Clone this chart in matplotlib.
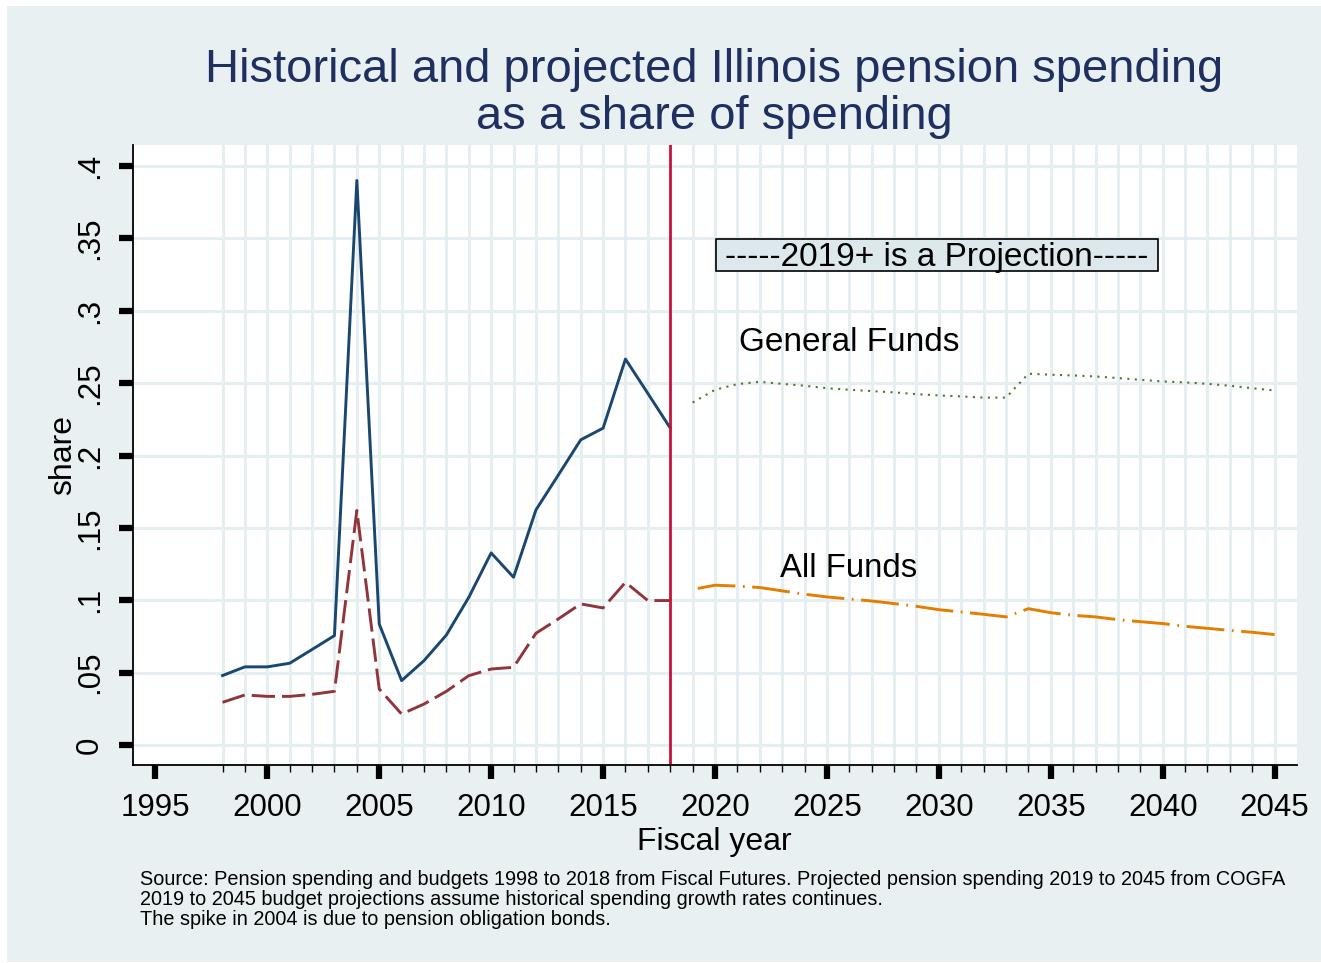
import matplotlib.pyplot as plt
from matplotlib.patches import Rectangle

# historical values (Fiscal Futures), 1998-2018
anos_hist = list(range(1998, 2019))
general_hist = [0.048, 0.054, 0.054, 0.0565, 0.066, 0.0756, 0.390, 0.0836, 0.0445, 0.0583,
                0.076, 0.102, 0.1327, 0.1159, 0.1624, 0.1865, 0.2108, 0.2189, 0.2666, 0.2429, 0.219]
tots_hist = [0.0295, 0.0346, 0.0336, 0.0336, 0.035, 0.0371, 0.162, 0.0387, 0.0214, 0.0283,
             0.0371, 0.0479, 0.0525, 0.0537, 0.0772, 0.0871, 0.0975, 0.0947, 0.1124, 0.0998, 0.0998]

# projections (COGFA), 2019-2045
anos_proj = list(range(2019, 2046))
general_proj = [0.2366, 0.2454, 0.2493, 0.2509, 0.2495, 0.2482, 0.2465, 0.2454, 0.2445, 0.2436,
                0.2424, 0.2415, 0.2408, 0.2400, 0.2400, 0.2565, 0.2558, 0.2553, 0.2546, 0.2535,
                0.2523, 0.2512, 0.2505, 0.2495, 0.2482, 0.2465, 0.2449]
tots_proj = [0.1075, 0.1104, 0.1098, 0.1088, 0.1065, 0.1042, 0.1023, 0.1009, 0.0995, 0.0977,
             0.0958, 0.0935, 0.0919, 0.0903, 0.0885, 0.0942, 0.0914, 0.0896, 0.0885, 0.0866,
             0.0852, 0.0839, 0.0820, 0.0806, 0.0792, 0.0779, 0.0763]

yticks = [0, 0.05, 0.1, 0.15, 0.2, 0.25, 0.3, 0.35, 0.4]
ytick_labels = ["0", ".05", ".1", ".15", ".2", ".25", ".3", ".35", ".4"]
xticks = list(range(1995, 2050, 5))

fons = "#E8F0F2"
plt.rcParams['font.family'] = ['Liberation Sans', 'DejaVu Sans']

W, H = 1321, 963
fig = plt.figure(figsize=(W / 100, H / 100), dpi=100)
fig.patch.set_facecolor("white")
fig.patches.append(Rectangle((7 / W, 1 / H), 1 - 7 / W, 1 - 7 / H, transform=fig.transFigure,
                             facecolor=fons, edgecolor="none", zorder=-10))

ax = fig.add_axes([133 / W, 1 - 765 / H, (1297 - 133) / W, (765 - 145) / H])
ax.set_facecolor("white")
ax.set_xlim(1994.0, 2046.0)
ax.set_ylim(-0.0138, 0.4145)

# grid: horizontal at y ticks, vertical at every data year
for y in yticks:
    ax.axhline(y, color="#E5EEF1", lw=2.2, zorder=1)
for a in range(1998, 2046):
    ax.axvline(a, color="#E5EEF1", lw=2.2, zorder=1)

ax.plot(anos_hist, general_hist, color="#1A476F", lw=2.1, zorder=3)
ax.plot(anos_hist, tots_hist, color="#90353B", lw=2.1, ls=(0, (8, 2.4)), zorder=3)

patro_punts = (1, 2.6) * 19 + (1, 14)
ax.plot(anos_proj, general_proj, color="#55752F", lw=1.5, ls=(0, patro_punts), zorder=3)
ax.plot(anos_proj, tots_proj, color="#E37E00", lw=2.1, ls=(17.0, (13, 2.6, 0.6, 2.6)), zorder=3)

ax.axvline(2018, color="#C8143C", lw=2.0, zorder=4)

# annotation box
ax.add_patch(Rectangle((2020.04, 0.3275), 19.74, 0.0221, facecolor="#DCE8EC",
                       edgecolor="black", lw=1.2, zorder=5))
ax.text(2029.9, 0.3311, "-----2019+ is a Projection-----", fontsize=24, ha="center",
        va="baseline", zorder=6)
ax.text(2021.07, 0.2722, "General Funds", fontsize=24, ha="left", va="baseline", zorder=6)
ax.text(2022.9, 0.1163, "All Funds", fontsize=23.7, ha="left", va="baseline", zorder=6)

for s in ["top", "right"]:
    ax.spines[s].set_visible(False)
for s in ["left", "bottom"]:
    ax.spines[s].set_linewidth(1.3)
    ax.spines[s].set_zorder(6)

ax.set_xticks(xticks)
ax.set_xticklabels([str(x) for x in xticks])
ax.set_xticks([a for a in range(1998, 2045) if a % 5 != 0], minor=True)
ax.set_yticks(yticks)
ax.set_yticklabels(ytick_labels)
ax.tick_params(axis="both", which="major", length=10, width=4.5, labelsize=22.5, pad=10)
ax.tick_params(axis="x", which="minor", length=5, width=1.0)
ax.tick_params(axis="y", which="major", labelrotation=90)
for t in ax.get_yticklabels():
    t.set_va("center")

# titles and labels
color_titol = "#1F2F5F"
fig.text(714 / W, 1 - 82 / H, "Historical and projected Illinois pension spending",
         fontsize=33.9, color=color_titol, ha="center", va="baseline")
fig.text(714 / W, 1 - 129 / H, "as a share of spending",
         fontsize=33.9, color=color_titol, ha="center", va="baseline")
fig.text(714 / W, 1 - 850 / H, "Fiscal year", fontsize=23, ha="center", va="baseline")
fig.text(63 / W, 1 - 455 / H, "share", fontsize=23, rotation=90, ha="center", va="center")

nota = ["Source: Pension spending and budgets 1998 to 2018 from Fiscal Futures. Projected pension spending 2019 to 2045 from COGFA",
        "2019 to 2045 budget projections assume historical spending growth rates continues.",
        "The spike in 2004 is due to pension obligation bonds."]
for i, linia in enumerate(nota):
    fig.text(140 / W, 1 - (885 + 20 * i) / H, linia, fontsize=14.3, ha="left", va="baseline")

fig.savefig("out.png", dpi=100)
